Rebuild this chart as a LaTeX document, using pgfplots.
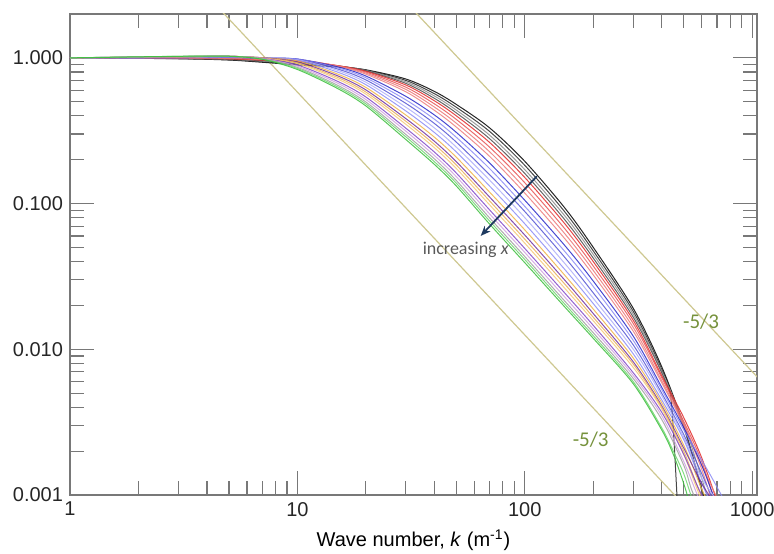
\documentclass[border=0pt]{standalone}
\usepackage{pgfplots}
\pgfplotsset{compat=1.18}
\usepackage{fontspec}
\setmainfont{Liberation Sans}
\newfontfamily\calibri{Carlito}
\usetikzlibrary{arrows.meta}
\definecolor{axgray}{RGB}{120,120,120}
\definecolor{khaki}{RGB}{206,200,145}
\definecolor{olivetxt}{RGB}{118,146,60}
\definecolor{arrowblue}{RGB}{31,58,96}
\definecolor{textgray}{RGB}{89,89,89}
\definecolor{cred}{RGB}{225,40,40}
\definecolor{cpink}{RGB}{235,120,120}
\definecolor{cblue}{RGB}{40,40,200}
\definecolor{clav}{RGB}{140,140,245}
\definecolor{corange}{RGB}{240,180,70}
\definecolor{ctan}{RGB}{232,176,90}
\definecolor{clorange}{RGB}{245,200,120}
\definecolor{cpurple}{RGB}{112,48,160}
\definecolor{cviolet}{RGB}{128,70,200}
\definecolor{clpurple}{RGB}{208,160,224}
\definecolor{cgray}{RGB}{160,160,160}
\definecolor{cgreen}{RGB}{60,190,60}
\definecolor{clgreen}{RGB}{110,215,110}
\begin{document}
\begin{tikzpicture}
\path[use as bounding box] (-35pt,-29pt) rectangle (352pt,247.5pt);
\begin{axis}[
  at={(0,0)}, anchor=south west,
  scale only axis, width=343.5pt, height=240.5pt,
  xmode=log, ymode=log,
  xmin=1, xmax=1050, ymin=0.001, ymax=2,
  axis line style={axgray, line width=0.6pt},
  tick style={axgray, line width=0.6pt},
  tick align=inside,
  xtick={1,10,100,1000}, xticklabels={1,10,100,1000},
  ytick={0.001,0.01,0.1,1}, yticklabels={0.001,0.010,0.100,1.000},
  minor xtick={2,3,4,5,6,7,8,9,20,30,40,50,60,70,80,90,200,300,400,500,600,700,800,900},
  minor ytick={0.002,0.003,0.004,0.005,0.006,0.007,0.008,0.009,0.02,0.03,0.04,0.05,0.06,0.07,0.08,0.09,0.2,0.3,0.4,0.5,0.6,0.7,0.8,0.9},
  major tick length=12pt, minor tick length=7pt,
  tick label style={font=\fontsize{10}{12}\selectfont, text=black!85},
  xlabel={Wave number, \textit{k} (m\textsuperscript{-1})},
  xlabel style={font=\fontsize{10}{12}\selectfont, at={(axis description cs:0.5,0)}, anchor=center, yshift=-22.5pt},
  every axis plot/.append style={line width=0.5pt, opacity=0.85, smooth},
  clip=true,
]
% -5/3 reference lines
\addplot[khaki, line width=0.6pt, opacity=1, sharp plot] coordinates {(25,3.27)(1100,0.0060)};
\addplot[khaki, line width=0.6pt, opacity=1, sharp plot] coordinates {(3,4.33)(700,0.00049)};
% spectra
\addplot[black] coordinates {(1,1)(3,.986)(5,.966)(7,.933)(10,.895)(15,.867)(20,.828)(30,.716)(40,.589)(50,.479)(70,.331)(100,.195)(150,.0933)(200,.0501)(300,.0191)(400,.0076)(500,.0030)(600,.0011)(640,.0008)};
\addplot[black!85] coordinates {(1,1)(3,.988)(5,.971)(7,.941)(10,.910)(15,.874)(20,.825)(30,.700)(40,.568)(50,.458)(70,.313)(100,.183)(150,.0877)(200,.0474)(300,.0182)(400,.0073)(440,.0045)(470,.0008)};
\addplot[black!45] coordinates {(1,1)(3,.989)(5,.976)(7,.949)(10,.924)(15,.879)(20,.821)(30,.684)(40,.548)(50,.438)(70,.295)(100,.171)(150,.0823)(200,.0448)(300,.0174)(400,.0071)(500,.0031)(600,.0013)(660,.0008)};
\addplot[black!70] coordinates {(1,1)(3,.991)(5,.981)(7,.957)(10,.936)(15,.882)(20,.815)(30,.668)(40,.528)(50,.419)(70,.279)(100,.161)(150,.0774)(200,.0423)(300,.0166)(400,.0069)(500,.0029)(580,.0013)(630,.0008)};
\addplot[cred] coordinates {(1,1)(3,.992)(5,.985)(7,.964)(10,.947)(15,.884)(20,.809)(30,.651)(40,.508)(50,.400)(70,.263)(100,.151)(150,.0727)(200,.0400)(300,.0158)(400,.0066)(500,.0034)(600,.0018)(720,.0008)};
\addplot[cred!80] coordinates {(1,1)(3,.994)(5,.990)(7,.971)(10,.959)(15,.885)(20,.799)(30,.629)(40,.484)(50,.378)(70,.244)(100,.139)(150,.0672)(200,.0373)(300,.0150)(400,.0064)(500,.0032)(600,.0017)(700,.0008)};
\addplot[cpink] coordinates {(1,1)(3,.996)(5,.995)(7,.978)(10,.968)(15,.882)(20,.787)(30,.607)(40,.460)(50,.356)(70,.227)(100,.128)(150,.0621)(200,.0348)(300,.0141)(400,.0061)(500,.0031)(600,.0016)(740,.0008)};
\addplot[cred!60] coordinates {(1,1)(3,.998)(5,1.000)(7,.984)(10,.975)(15,.878)(20,.773)(30,.585)(40,.437)(50,.335)(70,.211)(100,.118)(150,.0574)(200,.0324)(300,.0133)(400,.0059)(500,.0030)(600,.0015)(680,.0008)};
\addplot[cblue] coordinates {(1,1)(3,1.001)(5,1.006)(7,.992)(10,.981)(15,.868)(20,.751)(30,.544)(40,.406)(50,.308)(70,.190)(100,.1054)(150,.0515)(200,.0294)(300,.0123)(400,.0055)(500,.0029)(600,.0016)(710,.0008)};
\addplot[clav] coordinates {(1,1)(3,1.003)(5,1.010)(7,.996)(10,.982)(15,.855)(20,.730)(30,.515)(40,.380)(50,.285)(70,.174)(100,.0957)(150,.0469)(200,.0270)(300,.0115)(400,.0053)(500,.0028)(650,.0014)(790,.0008)};
\addplot[cblue!80] coordinates {(1,1)(3,1.006)(5,1.014)(7,1.000)(10,.979)(15,.839)(20,.706)(30,.487)(40,.355)(50,.264)(70,.158)(100,.0882)(150,.0427)(200,.0244)(300,.0107)(400,.0050)(500,.0026)(600,.0014)(700,.0008)};
\addplot[clav!70] coordinates {(1,1)(3,1.008)(5,1.017)(7,1.002)(10,.973)(15,.821)(20,.681)(30,.459)(40,.331)(50,.244)(70,.145)(100,.0801)(150,.0388)(200,.0224)(300,.0100)(400,.0048)(500,.0025)(600,.0013)(750,.0008)};
\addplot[clav] coordinates {(1,1)(3,1.010)(5,1.020)(7,1.003)(10,.964)(15,.799)(20,.655)(30,.432)(40,.308)(50,.226)(70,.132)(100,.0727)(150,.0353)(200,.0206)(300,.0093)(400,.0045)(500,.0024)(600,.0012)(680,.0008)};
\addplot[corange] coordinates {(1,1)(3,1.013)(5,1.022)(7,1.002)(10,.951)(15,.775)(20,.627)(30,.405)(40,.286)(50,.208)(70,.120)(100,.0660)(150,.0322)(200,.0189)(300,.0087)(400,.0043)(500,.0022)(600,.0011)(660,.0008)};
\addplot[cpurple] coordinates {(1,1)(3,1.014)(5,1.024)(7,1.001)(10,.937)(15,.754)(20,.603)(30,.383)(40,.268)(50,.194)(70,.111)(100,.0608)(150,.0298)(200,.0176)(300,.0082)(400,.0041)(500,.0021)(600,.0012)(710,.0008)};
\addplot[ctan] coordinates {(1,1)(3,1.016)(5,1.025)(7,.999)(10,.925)(15,.735)(20,.583)(30,.367)(40,.255)(50,.184)(70,.1044)(100,.0570)(150,.0280)(200,.0166)(300,.0079)(400,.0040)(500,.0020)(580,.0011)(640,.0008)};
\addplot[clorange] coordinates {(1,1)(3,1.018)(5,1.026)(7,.996)(10,.912)(15,.716)(20,.564)(30,.350)(40,.242)(50,.174)(70,.0981)(100,.0535)(150,.0262)(200,.0157)(300,.0075)(400,.0039)(500,.0019)(560,.0012)(620,.0008)};
\addplot[cviolet] coordinates {(1,1)(3,1.020)(5,1.026)(7,.992)(10,.893)(15,.691)(20,.539)(30,.329)(40,.226)(50,.162)(70,.0906)(100,.0492)(150,.0243)(200,.0146)(300,.0069)(400,.0037)(500,.0019)(600,.0010)(680,.0008)};
\addplot[clpurple] coordinates {(1,1)(3,1.021)(5,1.026)(7,.989)(10,.877)(15,.671)(20,.518)(30,.314)(40,.214)(50,.153)(70,.0850)(100,.0462)(150,.0228)(200,.0138)(300,.0066)(400,.0035)(500,.0017)(560,.0011)(610,.0008)};
\addplot[cgray] coordinates {(1,1)(3,1.023)(5,1.026)(7,.984)(10,.860)(15,.649)(20,.498)(30,.298)(40,.203)(50,.144)(70,.0798)(100,.0433)(150,.0214)(200,.0130)(300,.0063)(400,.0033)(500,.0016)(540,.0011)(590,.0008)};
\addplot[clgreen] coordinates {(1,1)(3,1.024)(5,1.026)(7,.981)(10,.846)(15,.633)(20,.483)(30,.287)(40,.194)(50,.138)(70,.0760)(100,.0413)(150,.0204)(200,.0124)(300,.0060)(400,.0029)(450,.0020)(500,.0014)(550,.0009)(575,.0008)};
\addplot[cgreen] coordinates {(1,1)(3,1.025)(5,1.026)(7,.977)(10,.832)(15,.617)(20,.468)(30,.275)(40,.186)(50,.132)(70,.0724)(100,.0393)(150,.0195)(200,.0119)(300,.0058)(400,.0028)(450,.0019)(500,.0012)(540,.0008)};
% annotations
\draw[-{Stealth[length=5pt,width=4pt]}, line width=0.9pt, arrowblue] (axis cs:113,0.154) -- (axis cs:64,0.06);
\node[font=\calibri\fontsize{9}{11}\selectfont, text=textgray] at (axis cs:55,0.0485) {increasing \textit{x}};
\node[font=\calibri\fontsize{10.5}{12}\selectfont, text=olivetxt] at (axis cs:195,0.00239) {-5/3};
\node[font=\calibri\fontsize{10.5}{12}\selectfont, text=olivetxt] at (axis cs:596,0.0155) {-5/3};
\end{axis}
\end{tikzpicture}
\end{document}
